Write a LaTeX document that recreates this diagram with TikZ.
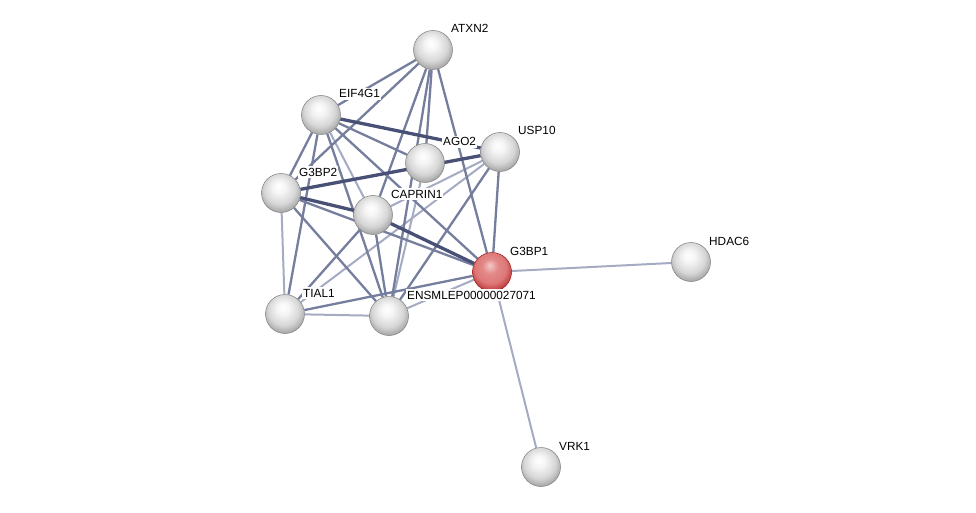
\documentclass[tikz,border=0pt]{standalone}
\usepackage{fontspec}
\setmainfont{Liberation Sans}
\usetikzlibrary{calc}
\pgfdeclarelayer{back}
\pgfdeclarelayer{bg}
\pgfsetlayers{back,bg,main}
\pgfdeclareradialshading{greyball}{\pgfpoint{-3bp}{9bp}}{%
  color(0bp)=(white);
  color(8bp)=(white!96!black);
  color(20bp)=(white!84!black);
  color(28bp)=(white!66!black);
  color(36bp)=(white!48!black);
  color(50bp)=(white!40!black)}
\definecolor{redA}{RGB}{245,200,200}
\definecolor{redB}{RGB}{222,120,120}
\definecolor{redC}{RGB}{190,60,60}
\definecolor{redD}{RGB}{150,30,30}
\pgfdeclareradialshading{redball}{\pgfpoint{-3bp}{9bp}}{%
  color(0bp)=(redA);
  color(10bp)=(redB!80!redA);
  color(20bp)=(redB);
  color(28bp)=(redC);
  color(36bp)=(redD);
  color(50bp)=(redD)}
\definecolor{edgeThick}{RGB}{72,80,118}
\definecolor{edgeMid}{RGB}{118,126,158}
\definecolor{edgeLight}{RGB}{165,171,195}
\tikzset{
  protein/.style={circle, minimum size=39pt, inner sep=0pt, shading=greyball, draw=white!50!black, line width=0.5pt},
  query/.style={circle, minimum size=39pt, inner sep=0pt, shading=redball, draw=redD, line width=0.5pt},
  lbl/.style={anchor=base west, inner xsep=1pt, inner ysep=1.5pt, fill=white, font=\fontsize{11.8}{13}\selectfont, text=black},
  thickedge/.style={draw=edgeThick, line width=3.3pt},
  midedge/.style={draw=edgeMid, line width=2.3pt},
  lightedge/.style={draw=edgeLight, line width=2pt}
}
\begin{document}
\begin{tikzpicture}[x=1pt, y=-1pt]
\begin{pgfonlayer}{back}
\fill[white] (0,0) rectangle (976,513);
\end{pgfonlayer}
\useasboundingbox (0,0) rectangle (976,513);
% nodes
\node[protein] (atxn2)  at (433,50)  {};
\node[protein] (eif4g1) at (321,115) {};
\node[protein] (ago2)   at (425,163) {};
\node[protein] (usp10)  at (500,152) {};
\node[protein] (g3bp2)  at (281,193) {};
\node[protein] (caprin1) at (373,215) {};
\node[query]   (g3bp1)  at (492,272) {};
\node[protein] (hdac6)  at (691,262) {};
\node[protein] (tial1)  at (285,314) {};
\node[protein] (ens)    at (389,316) {};
\node[protein] (vrk1)   at (541,467) {};
% labels
\node[lbl] (atxn2-l)  at (450,33)  {ATXN2};
\node[lbl] (eif4g1-l) at (338,98)  {EIF4G1};
\node[lbl] (ago2-l)   at (442,146) {AGO2};
\node[lbl] (usp10-l)  at (517,135) {USP10};
\node[lbl] (g3bp2-l)  at (298,176) {G3BP2};
\node[lbl] (caprin1-l) at (390,198) {CAPRIN1};
\node[lbl] (g3bp1-l)  at (509,255) {G3BP1};
\node[lbl] (hdac6-l)  at (708,245) {HDAC6};
\node[lbl] (tial1-l)  at (302,297) {TIAL1};
\node[lbl] (ens-l)    at (406,299) {ENSMLEP00000027071};
\node[lbl] (vrk1-l)   at (558,450) {VRK1};
% edges
\begin{pgfonlayer}{bg}
\draw[lightedge] (g3bp1) -- (hdac6);
\draw[lightedge] (g3bp1) -- (vrk1);
\draw[lightedge] (g3bp2) -- (tial1);
\draw[lightedge] (tial1) -- (ens);
\draw[lightedge] (tial1) -- (usp10);
\draw[lightedge] (caprin1) -- (usp10);
\draw[lightedge] (ens) -- (g3bp1);
\draw[lightedge] (ens) -- (ago2);
\draw[lightedge] (eif4g1) -- (caprin1);
\draw[midedge] (atxn2) -- (eif4g1);
\draw[midedge] (atxn2) -- (g3bp2);
\draw[midedge] (atxn2) -- (caprin1);
\draw[midedge] (atxn2) -- (ens);
\draw[midedge] (atxn2) -- (ago2);
\draw[midedge] (atxn2) -- (g3bp1);
\draw[midedge] (eif4g1) -- (g3bp2);
\draw[midedge] (eif4g1) -- (tial1);
\draw[midedge] (eif4g1) -- (ens);
\draw[midedge] (eif4g1) -- (g3bp1);
\draw[midedge] (eif4g1) -- (ago2);
\draw[midedge] (g3bp2) -- (ens);
\draw[midedge] (g3bp2) -- (g3bp1);
\draw[midedge] (caprin1) -- (tial1);
\draw[midedge] (caprin1) -- (ens);
\draw[midedge] (tial1) -- (g3bp1);
\draw[midedge] (ens) -- (usp10);
\draw[midedge] (usp10) -- (g3bp1);
\draw[thickedge] (eif4g1) -- (usp10);
\draw[thickedge] (g3bp2) -- (usp10);
\draw[thickedge] (g3bp2) -- (caprin1);
\draw[thickedge] (caprin1) -- (g3bp1);
\end{pgfonlayer}
\end{tikzpicture}
\end{document}
